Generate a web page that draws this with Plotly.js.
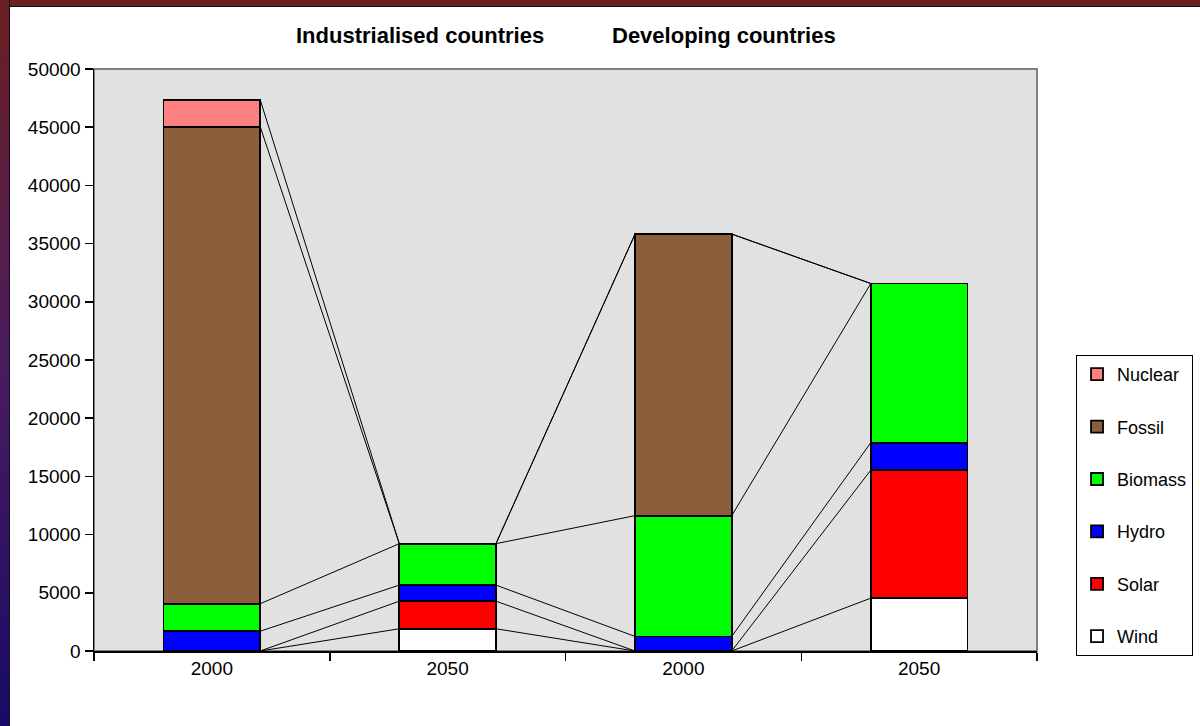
<!DOCTYPE html>
<html>
<head>
<meta charset="utf-8">
<script src="https://cdn.plot.ly/plotly-3.0.1.min.js"></script>
<style>
  html, body { margin:0; padding:0; background:#ffffff; }
  #frameTop { position:absolute; left:0; top:0; width:1200px; height:6px; background:#6a2020; border-bottom:1px solid #1a0a0a; z-index:5; }
  #frameLeft { position:absolute; left:0; top:0; width:9px; height:726px; background:linear-gradient(to bottom, #6b1f1f 0%, #4a1c5e 50%, #180a66 100%); border-right:1px solid #150a30; z-index:5; }
  #chart { position:absolute; left:0; top:0; width:1200px; height:726px; }
</style>
</head>
<body>
<div id="chart"></div>
<div id="frameTop"></div>
<div id="frameLeft"></div>
<script>
// ---- data ----
const categories = ["2000", "2050", "2000", "2050"];
const groupTitles = ["Industrialised countries", "Developing countries"];
const seriesNames = ["Wind", "Solar", "Hydro", "Biomass", "Fossil", "Nuclear"];
const wind    = [0,     1910,  0,     4540];
const solar   = [0,     2370,  0,     11000];
const hydro   = [1700,  1380,  1250,  2360];
const biomass = [2360,  3560,  10380, 13670];
const fossil  = [40980, 0,     24190, 0];
const nuclear = [2320,  0,     0,     0];
const yTicks  = [0, 5000, 10000, 15000, 20000, 25000, 30000, 35000, 40000, 45000, 50000];

const seriesValues = [wind, solar, hydro, biomass, fossil, nuclear];
const seriesColors = ["#ffffff", "#ff0000", "#0000ff", "#00ff00", "#8b5e3c", "#ff8080"];

const FONT = "'Liberation Sans', Arial, Helvetica, sans-serif";
const barWidth = 0.41;
const xPos = categories.map((c, i) => i);

const traces = [];
seriesNames.forEach((name, s) => {
  traces.push({
    type: "bar",
    name: name,
    x: xPos,
    y: seriesValues[s],
    width: barWidth,
    marker: { color: seriesColors[s], line: { color: "#000000", width: 1.8 } },
    legendgroup: name,
    legendrank: seriesNames.length - s,
    hoverinfo: "name+y"
  });
});

// series lines (connect tops of each stacked series between adjacent bars)
const cum = [];
seriesValues.forEach((vals, s) => {
  cum.push(vals.map((v, i) => (s > 0 ? cum[s - 1][i] : 0) + v));
});
cum.forEach((tops, s) => {
  const lx = [], ly = [];
  for (let i = 0; i < xPos.length - 1; i++) {
    lx.push(xPos[i] + barWidth / 2, xPos[i + 1] - barWidth / 2, null);
    ly.push(tops[i], tops[i + 1], null);
  }
  traces.push({
    type: "scatter", mode: "lines", x: lx, y: ly,
    line: { color: "#000000", width: 1 },
    showlegend: false, hoverinfo: "skip"
  });
});

const boundaries = [];
for (let i = 0; i <= xPos.length; i++) boundaries.push(i - 0.5);

const layout = {
  width: 1200, height: 726,
  margin: { l: 94, r: 163, t: 69, b: 75, pad: 0 },
  paper_bgcolor: "rgba(0,0,0,0)",
  plot_bgcolor: "#e1e1e1",
  barmode: "stack",
  showlegend: true,
  font: { family: FONT, size: 19, color: "#000000" },
  xaxis: {
    range: [-0.5, 3.5],
    tickvals: xPos, ticktext: categories,
    ticks: "", showgrid: false, zeroline: false,
    showline: true, linecolor: "#000000", linewidth: 1.5,
    tickfont: { family: FONT, size: 19 },
    ticklabelstandoff: 0,
    minor: { tickvals: boundaries, ticks: "outside", ticklen: 8, tickcolor: "#000000", tickwidth: 1.5, showgrid: false },
    fixedrange: true
  },
  yaxis: {
    range: [0, 50000],
    tickvals: yTicks, tickformat: "d",
    ticks: "outside", ticklen: 8, tickcolor: "#000000", tickwidth: 1.5,
    showgrid: false, zeroline: false,
    showline: true, linecolor: "#000000", linewidth: 1.5,
    tickfont: { family: FONT, size: 19 },
    fixedrange: true
  },
  legend: {
    xref: "container", yref: "container",
    x: 0.9942, xanchor: "right",
    y: 0.511, yanchor: "top",
    bgcolor: "#ffffff", bordercolor: "#000000", borderwidth: 1,
    font: { family: FONT, size: 18, color: "#000000" },
    traceorder: "grouped",
    tracegroupgap: 26,
    itemwidth: 30
  },
  shapes: [{
    type: "rect", xref: "paper", yref: "paper", x0: 0, x1: 1, y0: 0, y1: 1,
    line: { color: "#808080", width: 2 }, fillcolor: "rgba(0,0,0,0)", layer: "below"
  }],
  annotations: [
    { text: "<b>" + groupTitles[0] + "</b>", xref: "paper", yref: "paper", x: 0.3457, y: 1.057, xanchor: "center", yanchor: "middle", showarrow: false, font: { family: FONT, size: 22 } },
    { text: "<b>" + groupTitles[1] + "</b>", xref: "paper", yref: "paper", x: 0.668, y: 1.057, xanchor: "center", yanchor: "middle", showarrow: false, font: { family: FONT, size: 22 } }
  ]
};

Plotly.newPlot("chart", traces, layout, { displayModeBar: false, staticPlot: true });
</script>
</body>
</html>
